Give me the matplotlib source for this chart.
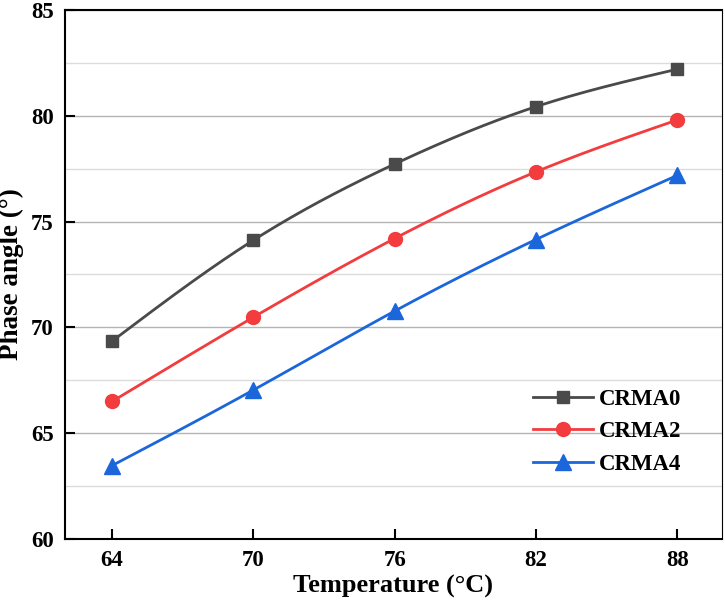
import matplotlib.pyplot as plt
import numpy as np
from matplotlib.ticker import MultipleLocator

# data
temperature = [64, 70, 76, 82, 88]
crma0 = [69.35, 74.12, 77.72, 80.43, 82.2]
crma2 = [66.5, 70.48, 74.2, 77.35, 79.8]
crma4 = [63.47, 67.04, 70.77, 74.15, 77.18]
labels = ["CRMA0", "CRMA2", "CRMA4"]
colors = ["#4a4a4a", "#f23c3e", "#1c66dc"]
markers = ["s", "o", "^"]
msizes = [8.5, 10, 11]


def natural_spline(x, y, n=200):
    # natural cubic spline, only for drawing the smooth connecting line
    x = np.asarray(x, float)
    y = np.asarray(y, float)
    k = len(x)
    h = np.diff(x)
    A = np.zeros((k, k))
    b = np.zeros(k)
    A[0, 0] = A[-1, -1] = 1
    for i in range(1, k - 1):
        A[i, i - 1] = h[i - 1]
        A[i, i] = 2 * (h[i - 1] + h[i])
        A[i, i + 1] = h[i]
        b[i] = 6 * ((y[i + 1] - y[i]) / h[i] - (y[i] - y[i - 1]) / h[i - 1])
    M = np.linalg.solve(A, b)
    xs = np.linspace(x[0], x[-1], n)
    idx = np.clip(np.searchsorted(x, xs) - 1, 0, k - 2)
    x0, x1 = x[idx], x[idx + 1]
    hh = x1 - x0
    t0, t1 = x1 - xs, xs - x0
    ys = (M[idx] * t0 ** 3 + M[idx + 1] * t1 ** 3) / (6 * hh) \
        + (y[idx] / hh - M[idx] * hh / 6) * t0 \
        + (y[idx + 1] / hh - M[idx + 1] * hh / 6) * t1
    return xs, ys


plt.rcParams["font.family"] = ["Liberation Serif", "DejaVu Serif"]
plt.rcParams["font.weight"] = "bold"

fig = plt.figure(figsize=(7.25, 6.01), dpi=100)
ax = fig.add_axes([0.0897, 0.1032, 0.906, 0.8802])

for ys, lab, c, m, ms in zip([crma0, crma2, crma4], labels, colors, markers, msizes):
    sx, sy = natural_spline(temperature, ys)
    ax.plot(sx, sy, color=c, lw=2, zorder=3)
    ax.plot(temperature, ys, ls="none", marker=m, ms=ms, color=c, zorder=4)
    ax.plot([], [], color=c, lw=2, marker=m, ms=ms, label=lab)

ax.set_xlim(62, 89.9)
ax.set_ylim(60, 85)
ax.set_xticks(temperature)
ax.yaxis.set_major_locator(MultipleLocator(5))
ax.yaxis.set_minor_locator(MultipleLocator(2.5))
ax.grid(axis="y", which="major", color="#b4b4b4", lw=1.0, zorder=0)
ax.grid(axis="y", which="minor", color="#dcdcdc", lw=1.0, zorder=0)
ax.tick_params(axis="both", which="major", direction="in", length=7, width=1.5,
               labelsize=16.5, pad=8)
ax.tick_params(axis="y", which="minor", length=0)
for lbl in ax.get_xticklabels() + ax.get_yticklabels():
    lbl.set_fontweight("bold")

for side in ["left", "bottom", "top"]:
    ax.spines[side].set_linewidth(1.5)
ax.spines["right"].set_linewidth(0.8)

ax.set_xlabel("Temperature (°C)", fontsize=19, fontweight="bold", labelpad=3)
ax.set_ylabel("Phase angle (°)", fontsize=19.5, fontweight="bold")
ax.yaxis.set_label_coords(-0.063, 0.5)

ax.legend(loc="lower right", bbox_to_anchor=(0.97, 0.082), frameon=False,
          handlelength=2.6, handletextpad=0.27, labelspacing=0.5,
          prop={"weight": "bold", "size": 16.5})

fig.savefig("out.png", dpi=100)
